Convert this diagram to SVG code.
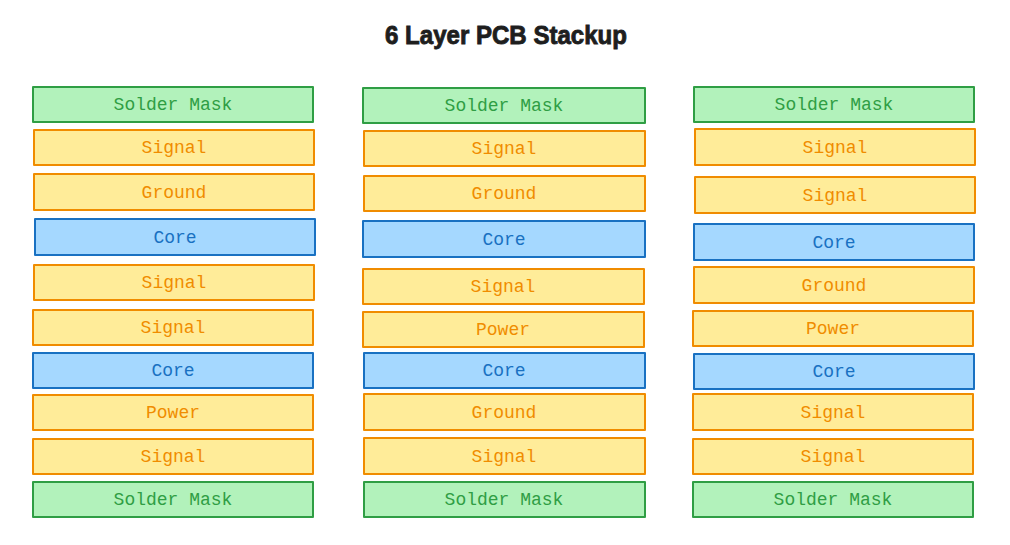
<svg xmlns="http://www.w3.org/2000/svg" width="1010" height="545" viewBox="0 0 1010 545">
<style>
rect{stroke-width:2;stroke-linejoin:round}
text{font-family:"Liberation Mono","DejaVu Sans Mono",monospace;font-size:18px;text-anchor:middle}
.sm rect{fill:#b2f2bb;stroke:#2f9e44}.sm text{fill:#2f9e44}
.cu rect{fill:#ffec99;stroke:#f08c00}.cu text{fill:#f08c00}
.co rect{fill:#a5d8ff;stroke:#1971c2}.co text{fill:#1971c2}
.title{font-family:"Liberation Sans",Arial,sans-serif;font-weight:bold;font-size:26px;fill:#1e1e1e;stroke:#1e1e1e;stroke-width:0.9}
</style>
<rect x="0" y="0" width="1010" height="545" fill="#ffffff" stroke="none"/>
<text class="title" x="506" y="44" textLength="242" lengthAdjust="spacingAndGlyphs">6 Layer PCB Stackup</text>
<g id="col1">
<g id="c1-l1" class="sm"><rect x="33" y="87" width="280" height="35"/><text x="173" y="110">Solder Mask</text></g>
<g id="c1-l2" class="cu"><rect x="34" y="130" width="280" height="35"/><text x="174" y="153">Signal</text></g>
<g id="c1-l3" class="cu"><rect x="34" y="174" width="280" height="36"/><text x="174" y="198">Ground</text></g>
<g id="c1-l4" class="co"><rect x="35" y="219" width="280" height="36"/><text x="175" y="243">Core</text></g>
<g id="c1-l5" class="cu"><rect x="34" y="265" width="280" height="35"/><text x="174" y="288">Signal</text></g>
<g id="c1-l6" class="cu"><rect x="33" y="310" width="280" height="35"/><text x="173" y="333">Signal</text></g>
<g id="c1-l7" class="co"><rect x="33" y="353" width="280" height="35"/><text x="173" y="376">Core</text></g>
<g id="c1-l8" class="cu"><rect x="33" y="395" width="280" height="35"/><text x="173" y="418">Power</text></g>
<g id="c1-l9" class="cu"><rect x="33" y="439" width="280" height="35"/><text x="173" y="462">Signal</text></g>
<g id="c1-l10" class="sm"><rect x="33" y="482" width="280" height="35"/><text x="173" y="505">Solder Mask</text></g>
</g>
<g id="col2">
<g id="c2-l1" class="sm"><rect x="363" y="88" width="282" height="35"/><text x="504" y="111">Solder Mask</text></g>
<g id="c2-l2" class="cu"><rect x="364" y="131" width="281" height="35"/><text x="504" y="154">Signal</text></g>
<g id="c2-l3" class="cu"><rect x="364" y="176" width="281" height="35"/><text x="504" y="199">Ground</text></g>
<g id="c2-l4" class="co"><rect x="363" y="221" width="282" height="36"/><text x="504" y="245">Core</text></g>
<g id="c2-l5" class="cu"><rect x="363" y="269" width="281" height="35"/><text x="503" y="292">Signal</text></g>
<g id="c2-l6" class="cu"><rect x="363" y="312" width="281" height="35"/><text x="503" y="335">Power</text></g>
<g id="c2-l7" class="co"><rect x="364" y="353" width="281" height="35"/><text x="504" y="376">Core</text></g>
<g id="c2-l8" class="cu"><rect x="364" y="394" width="281" height="36"/><text x="504" y="418">Ground</text></g>
<g id="c2-l9" class="cu"><rect x="364" y="438" width="281" height="36"/><text x="504" y="462">Signal</text></g>
<g id="c2-l10" class="sm"><rect x="364" y="482" width="281" height="35"/><text x="504" y="505">Solder Mask</text></g>
</g>
<g id="col3">
<g id="c3-l1" class="sm"><rect x="694" y="87" width="280" height="35"/><text x="834" y="110">Solder Mask</text></g>
<g id="c3-l2" class="cu"><rect x="695" y="129" width="280" height="36"/><text x="835" y="153">Signal</text></g>
<g id="c3-l3" class="cu"><rect x="695" y="177" width="280" height="36"/><text x="835" y="201">Signal</text></g>
<g id="c3-l4" class="co"><rect x="694" y="224" width="280" height="36"/><text x="834" y="248">Core</text></g>
<g id="c3-l5" class="cu"><rect x="694" y="267" width="280" height="36"/><text x="834" y="291">Ground</text></g>
<g id="c3-l6" class="cu"><rect x="693" y="311" width="280" height="35"/><text x="833" y="334">Power</text></g>
<g id="c3-l7" class="co"><rect x="694" y="354" width="280" height="35"/><text x="834" y="377">Core</text></g>
<g id="c3-l8" class="cu"><rect x="693" y="394" width="280" height="36"/><text x="833" y="418">Signal</text></g>
<g id="c3-l9" class="cu"><rect x="693" y="439" width="280" height="35"/><text x="833" y="462">Signal</text></g>
<g id="c3-l10" class="sm"><rect x="693" y="482" width="280" height="35"/><text x="833" y="505">Solder Mask</text></g>
</g>
<g id="connectors"/>
</svg>
